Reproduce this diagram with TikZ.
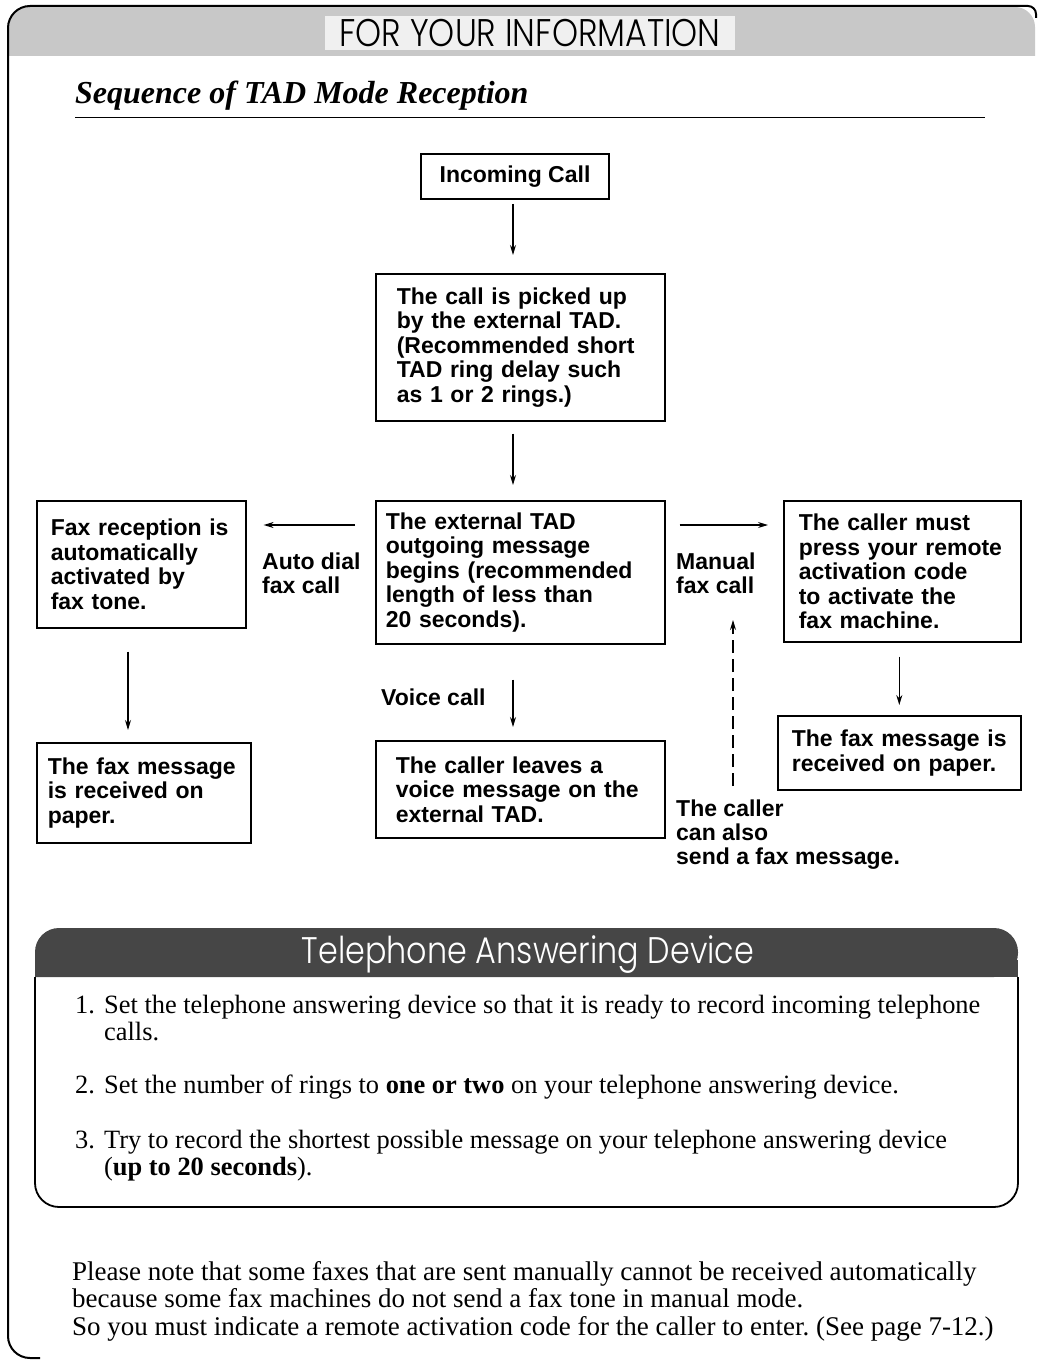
\documentclass[tikz,border=0pt]{standalone}
\usepackage{fontspec}
\setmainfont{Liberation Serif}
\setsansfont{Liberation Sans}
\newfontfamily\headfont[FakeStretch=0.86]{Poppins Light}
\newfontfamily\bodyfont{Liberation Serif}
\usetikzlibrary{arrows.meta,positioning}
\definecolor{bandgray}{RGB}{200,200,200}
\definecolor{bargray}{RGB}{70,70,70}

\tikzset{
  tadbox/.style={draw,line width=1.6pt,anchor=north west,align=left,
    font=\sffamily\bfseries\fontsize{23}{24.5}\selectfont},
  flow/.style={line width=1.1pt,-{Stealth[length=10pt,width=6pt]}},
  flowlabel/.style={anchor=north west,align=left,inner sep=0pt,
    font=\sffamily\bfseries\fontsize{23}{24}\selectfont},
  steptext/.style={anchor=north west,inner sep=0pt,align=left,font=\bodyfont\fontsize{26.4}{27}\selectfont},
}
\newcommand{\stepno}[1]{\makebox[29pt][l]{#1}}
\frenchspacing

\begin{document}
\begin{tikzpicture}[x=1pt,y=-1pt]
\useasboundingbox (0,0) rectangle (1039,1362);
% page frame and header band
\fill[bandgray,rounded corners=20pt] (9,56) -- (9,7) -- (1035,7) [sharp corners] -- (1035,56) -- cycle;
\draw[line width=2pt,rounded corners=22pt] (40,1358) -- (8,1358) -- (8,6) [rounded corners=8pt] -- (1036,6) -- (1036,18);
\node[fill=gray!12,inner xsep=14pt,inner ysep=3pt,font=\headfont\fontsize{38.5}{38.5}\selectfont] (fyi) at (530,33) {FOR YOUR INFORMATION};
\node[anchor=base west,inner sep=0pt,font=\rmfamily\bfseries\itshape\fontsize{32}{32}\selectfont] (seqtitle) at (75,104) {Sequence of TAD Mode Reception};
\draw[line width=0.8pt] (75,117) -- (985,117);

% flow chart
\node[tadbox,anchor=center,minimum width=188pt,minimum height=45pt,inner xsep=0pt] (incoming) at (515,176.5) {Incoming Call};
\node[tadbox,inner xsep=21pt,text width=247pt,minimum height=147pt] (picked) at (375,273)
  {The call is picked up\\by the external TAD.\\(Recommended short\\TAD ring delay such\\as 1 or 2 rings.)};
\node[tadbox,inner xsep=10pt,text width=269pt,minimum height=143pt] (tadmsg) at (375,500)
  {The external TAD\\outgoing message\\begins (recommended\\length of less than\\20 seconds).};
\node[tadbox,inner xsep=14pt,text width=181pt,minimum height=127pt] (faxrx) at (36,500)
  {Fax reception is\\automatically\\activated by\\fax tone.};
\node[tadbox,inner xsep=15pt,text width=207pt,minimum height=141pt] (caller) at (783,500)
  {The caller must\\press your remote\\activation code\\to activate the\\fax machine.};
\node[tadbox,inner xsep=11pt,text width=192pt,minimum height=100pt] (faxpaper) at (36,742)
  {The fax message\\is received on\\paper.};
\node[tadbox,inner xsep=20pt,text width=249pt,minimum height=97pt] (voicemsg) at (375,740)
  {The caller leaves a\\voice message on the\\external TAD.};
\node[tadbox,inner xsep=14pt,text width=215pt,minimum height=74pt] (paperR) at (777,715)
  {The fax message is\\received on paper.};

\node[flowlabel] (autolbl) at (262,553) {Auto dial\\fax call};
\node[flowlabel] (manuallbl) at (676,553) {Manual\\fax call};
\node[flowlabel] (voicelbl) at (381,689) {Voice call};
\node[flowlabel] (alsofax) at (676,800) {The caller\\can also\\send a fax message.};

\coordinate (arrowy) at (0,525);
\coordinate (midx) at (513,0);
\coordinate (leftx) at (128,0);
\coordinate (dashx) at (733,0);
\coordinate (dashtip) at (733,620);

\draw[flow,shorten <=4pt,shorten >=18pt] (incoming.south -| midx) -- (picked.north -| midx);
\draw[flow,shorten <=12pt,shorten >=15pt] (picked.south -| midx) -- (tadmsg.north -| midx);
\draw[flow,shorten <=20pt,shorten >=17pt] (tadmsg.west |- arrowy) -- (faxrx.east |- arrowy);
\draw[flow,shorten <=14pt,shorten >=15pt] (tadmsg.east |- arrowy) -- (caller.west |- arrowy);
\draw[flow,shorten <=23pt,shorten >=12pt] (faxrx.south -| leftx) -- (faxpaper.north -| leftx);
\draw[flow,shorten <=35pt,shorten >=13pt] (tadmsg.south -| midx) -- (voicemsg.north -| midx);
\draw[flow,shorten <=14pt,shorten >=10pt] (caller.south -| paperR) -- (paperR);
\draw[flow,dash pattern=on 13pt off 6pt,shorten <=14pt] (alsofax.north -| dashx) -- (dashtip);

% answering device panel
\fill[bargray,rounded corners=24pt] (35,977) -- (35,928) -- (1018,928) -- (1018,977) [sharp corners] -- cycle;
\fill[bargray] (35,960) rectangle (1018,977);
\node[text=white,inner sep=0pt,font=\headfont\fontsize{37}{37}\selectfont] (tadhead) at (528,955) {Telephone Answering Device};
\draw[line width=1.8pt,rounded corners=24pt] (35,977) -- (35,1207) -- (1018,1207) -- (1018,977);

\node[steptext] (step1) at (75,995) {\stepno{1.}Set the telephone answering device so that it is ready to record incoming telephone\\\stepno{}calls.};
\node[steptext] (step2) at (75,1075) {\stepno{2.}Set the number of rings to \textbf{one or two} on your telephone answering device.};
\node[steptext] (step3) at (75,1130) {\stepno{3.}Try to record the shortest possible message on your telephone answering device\\\stepno{}(\textbf{up to 20 seconds}).};

\node[steptext,font=\bodyfont\fontsize{27}{27.5}\selectfont] (faxnote) at (72,1261)
  {Please note that some faxes that are sent manually cannot be received automatically\\because some fax machines do not send a fax tone in manual mode.\\So you must indicate a remote activation code for the caller to enter. (See page 7-12.)};
\end{tikzpicture}
\end{document}
